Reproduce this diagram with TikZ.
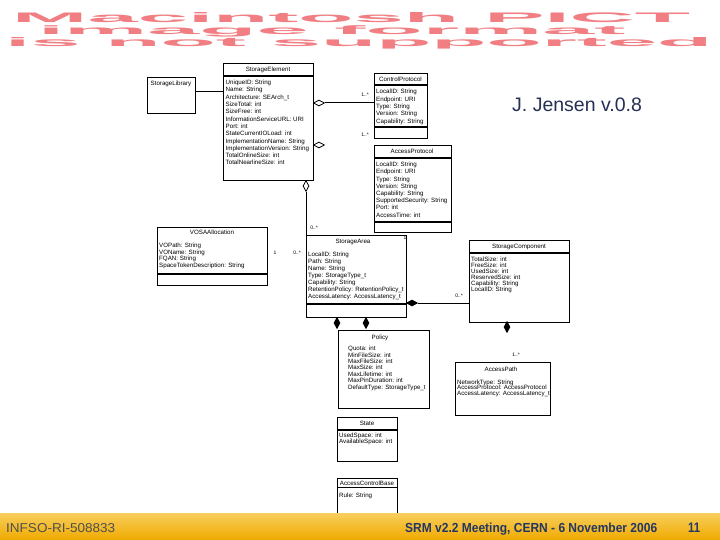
\documentclass[tikz,border=0pt]{standalone}
\usepackage{fontspec}
\setmainfont{Liberation Sans}
\usetikzlibrary{shapes.geometric}
\definecolor{pinkt}{RGB}{240,126,130}
\definecolor{navyt}{RGB}{35,55,100}
\definecolor{jcol}{RGB}{38,48,85}
\definecolor{fgray}{RGB}{80,80,80}
\definecolor{bandtop}{RGB}{248,206,92}
\definecolor{bandbot}{RGB}{240,170,0}
\begin{document}
\begin{tikzpicture}[x=1pt,y=-1pt,
  umlbox/.style={draw=black,line width=1.1pt,anchor=north west,inner sep=0pt},
  sepline/.style={draw=black,line width=1.1pt},
  conn/.style={draw=black,line width=1pt},
  ttl/.style={inner sep=0pt,font=\fontsize{6.2}{7}\selectfont},
  attr/.style={anchor=mid west,inner sep=0pt,font=\fontsize{6.2}{7}\selectfont},
  mult/.style={inner sep=0pt,font=\fontsize{5}{6}\selectfont},
  hdia/.style={shape=diamond,draw=black,line width=0.8pt,fill=white,minimum width=11pt,minimum height=6pt,inner sep=0pt},
  vdia/.style={shape=diamond,draw=black,line width=0.8pt,fill=white,minimum width=6pt,minimum height=11pt,inner sep=0pt},
  hfdia/.style={hdia,fill=black},
  vfdia/.style={vdia,fill=black},
  pinkline/.style={anchor=base west,inner sep=0pt,text=pinkt}
]
\useasboundingbox (0,0) rectangle (720,540);
\fill[white] (0,0) rectangle (720,540);

% ---- banner text ----
\node[pinkline] (ban1) at (12,22.5) {\resizebox{678pt}{10pt}{\bfseries Macintosh PICT}};
\node[pinkline] (ban2) at (38,34.5) {\resizebox{587pt}{8.8pt}{\bfseries image format}};
\node[pinkline] (ban3) at (5,47) {\resizebox{707pt}{9pt}{\bfseries is not supported}};

% ---- author ----
\node[anchor=base west,inner sep=0pt,text=jcol,font=\fontsize{19.5}{22}\selectfont] (author) at (512,112) {J. Jensen v.0.8};

% ---- StorageLibrary ----
\node[umlbox,minimum width=48pt,minimum height=36pt] (sl) at (147,77) {};
\node[ttl] (sl-t) at (171,84) {StorageLibrary};

% ---- StorageElement ----
\node[umlbox,minimum width=90pt,minimum height=117pt] (se) at (223,63) {};
\node[ttl] (se-t) at (268,70) {StorageElement};
\draw[sepline] (se.west |- 0,76) -- (se.east |- 0,76);
\foreach \t [count=\i] in {UniqueID: String, Name: String, Architecture: SEArch\_t, SizeTotal: int, SizeFree: int, InformationServiceURL: URI, Port: int, StateCurrentIOLoad: int, ImplementationName: String, ImplementationVersion: String, TotalOnlineSize: int, TotalNearlineSize: int}
  \node[attr] (se-a\i) at (225.5,{82+7.3*(\i-1)}) {\t};

\draw[conn] (sl.east |- 0,92) -- (se.west |- 0,92);

% ---- ControlProtocol ----
\node[umlbox,minimum width=53pt,minimum height=65pt] (cp) at (374,73) {};
\node[ttl] (cp-t) at (400.5,79) {ControlProtocol};
\draw[sepline] (cp.west |- 0,85) -- (cp.east |- 0,85);
\draw[sepline] (cp.west |- 0,127) -- (cp.east |- 0,127);
\foreach \t [count=\i] in {LocalID: String, Endpoint: URI, Type: String, Version: String, Capability: String}
  \node[attr] (cp-a\i) at (376,{91+7.4*(\i-1)}) {\t};

\node[hdia] (d-cp) at (319,103) {};
\draw[conn] (d-cp.east) -- (cp.west |- d-cp.east);
\node[mult] (m-cp) at (365,95) {1..*};

\node[hdia] (d-ap) at (319,145) {};
\node[mult] (m-ap) at (365,135) {1..*};

% ---- AccessProtocol ----
\node[umlbox,minimum width=77pt,minimum height=87pt] (ap) at (374,145) {};
\node[ttl] (ap-t) at (412,151.5) {AccessProtocol};
\draw[sepline] (ap.west |- 0,158) -- (ap.east |- 0,158);
\draw[sepline] (ap.west |- 0,222) -- (ap.east |- 0,222);
\foreach \t [count=\i] in {LocalID: String, Endpoint: URI, Type: String, Version: String, Capability: String, SupportedSecurity: String, Port: int, AccessTime: int}
  \node[attr] (ap-a\i) at (376,{164+7.2*(\i-1)}) {\t};
\node[mult] (m-ap1) at (405,238) {1};

% ---- StorageArea ----
\node[umlbox,minimum width=100pt,minimum height=82pt] (sa) at (306,235) {};
\node[ttl] (sa-t) at (353,242) {StorageArea};
\draw[sepline] (sa.west |- 0,304) -- (sa.east |- 0,304);
\foreach \t [count=\i] in {LocalID: String, Path: String, Name: String, Type: StorageType\_t, Capability: String, RetentionPolicy: RetentionPolicy\_t, AccessLatency: AccessLatency\_t}
  \node[attr] (sa-a\i) at (308,{254+7*(\i-1)}) {\t};

\node[vdia] (d-sa) at (306,186) {};
\draw[conn] (d-sa.south) -- (sa.north west);
\node[mult] (m-sa) at (314,228) {0..*};

% ---- VO box ----
\node[umlbox,minimum width=110pt,minimum height=58pt] (vo) at (157,227) {};
\node[ttl] (vo-t) at (212,232) {VOSAAllocation};
\draw[sepline] (vo.west |- 0,274) -- (vo.east |- 0,274);
\foreach \t [count=\i] in {VOPath: String, VOName: String, FQAN: String, SpaceTokenDescription: String}
  \node[attr] (vo-a\i) at (159,{245+6.6*(\i-1)}) {\t};
\node[mult] (m-vo1) at (275,253) {1};
\node[mult] (m-vo2) at (297,253) {0..*};

% ---- StorageComponent ----
\node[umlbox,minimum width=100pt,minimum height=82pt] (sc) at (469,240) {};
\node[ttl] (sc-t) at (519,247) {StorageComponent};
\draw[sepline] (sc.west |- 0,253) -- (sc.east |- 0,253);
\foreach \t [count=\i] in {TotalSize: int, FreeSize: int, UsedSize: int, ReservedSize: int, Capability: String, LocalID: String}
  \node[attr] (sc-a\i) at (471,{259+6*(\i-1)}) {\t};

\node[hfdia] (d-sc) at (412,303) {};
\draw[conn] (d-sc.east) -- (sc.west |- d-sc.east);
\node[mult] (m-sc) at (459,296) {0..*};

\node[vfdia] (d-sc2) at (507,327) {};
\node[vfdia] (d-po) at (337,323) {};
\node[vfdia] (d-st) at (366,323) {};

% ---- Policy ----
\node[umlbox,minimum width=91pt,minimum height=78pt] (po) at (338,330) {};
\node[ttl] (po-t) at (380,338) {Policy};
\foreach \t [count=\i] in {Quota: int, MinFileSize: int, MaxFileSize: int, MaxSize: int, MaxLifetime: int, MaxPinDuration: int, DefaultType: StorageType\_t}
  \node[attr] (po-a\i) at (348,{348+6.4*(\i-1)}) {\t};

% ---- AccessPath ----
\node[umlbox,minimum width=95pt,minimum height=53pt] (apa) at (455,362) {};
\node[ttl] (apa-t) at (501,369) {AccessPath};
\foreach \t [count=\i] in {NetworkType: String, AccessProtocol: AccessProtocol, AccessLatency: AccessLatency\_t}
  \node[attr] (apa-a\i) at (457,{381.5+5.5*(\i-1)}) {\t};
\node[mult] (m-apa) at (516,355) {1..*};

% ---- State ----
\node[umlbox,minimum width=60pt,minimum height=44pt] (st) at (337,417) {};
\node[ttl] (st-t) at (367,423) {State};
\draw[sepline] (st.west |- 0,430) -- (st.east |- 0,430);
\node[attr] (st-a1) at (339,435) {UsedSpace: int};
\node[attr] (st-a2) at (339,441) {AvailableSpace: int};

% ---- AccessControlBase ----
\node[umlbox,minimum width=60pt,minimum height=70pt] (acb) at (337,478) {};
\node[ttl] (acb-t) at (367,483) {AccessControlBase};
\draw[sepline] (acb.west |- 0,487.5) -- (acb.east |- 0,487.5);
\node[attr] (acb-a1) at (339,495) {Rule: String};

% ---- footer ----
\shade[top color=bandtop,bottom color=bandbot] (0,513) rectangle (720,540);
\node[anchor=base west,inner sep=0pt,text=fgray] (f1) at (6,532) {\resizebox{109pt}{9pt}{INFSO-RI-508833}};
\node[anchor=base west,inner sep=0pt,text=navyt] (f2) at (405,532) {\resizebox{252pt}{9.5pt}{\bfseries SRM v2.2 Meeting, CERN - 6 November 2006}};
\node[anchor=base west,inner sep=0pt,text=navyt] (f3) at (688,532) {\resizebox{12pt}{9.5pt}{\bfseries 11}};
\end{tikzpicture}
\end{document}
